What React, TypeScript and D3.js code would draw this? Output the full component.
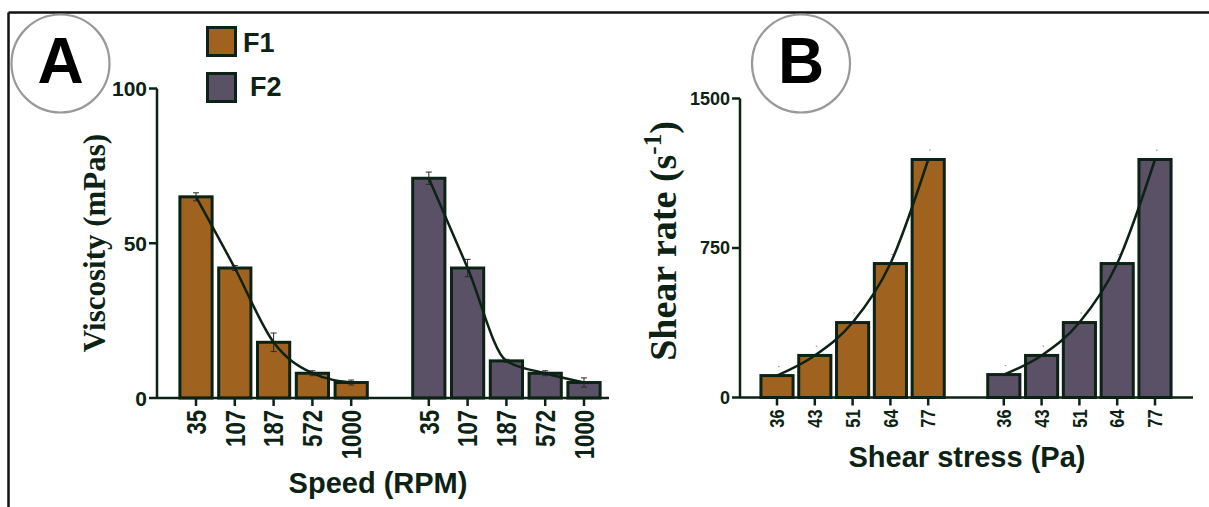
import React from "react";
import * as d3 from "d3";

// panel A: viscosity vs speed
const speedLabels = ["35", "107", "187", "572", "1000"];
const viscF1 = [65, 42, 18, 8, 5];
const viscF1Err = [1.3, 0.8, 3, 0.8, 0.8];
const viscF2 = [71, 42, 12, 8, 5];
const viscF2Err = [2, 2.8, 0.5, 0.8, 1.5];
const viscTicks = [0, 50, 100];

// panel B: shear rate vs shear stress
const stressLabels = ["36", "43", "51", "64", "77"];
const rateF1 = [110, 211, 376, 672, 1194];
const rateF2 = [115, 211, 376, 672, 1194];
const rateErr = [45, 47, 48, 45, 47];
const rateTicks = [0, 750, 1500];

const seriesNames = ["F1", "F2"];
const colF1 = "#a0621f";
const colF2 = "#5a5166";
const ink = "#0c2214";
const sans = "'Liberation Sans', Arial, sans-serif";
const serif = "'Liberation Serif', 'Times New Roman', serif";

type PanelProps = {
  labels: string[];
  s1: number[];
  s2: number[];
  e1: number[];
  e2: number[];
  ticks: number[];
  yMax: number;
  axisX: number;
  axisEnd: number;
  y0: number;
  y1: number;
  bandRange: [number, number];
  pad: number;
  tickFont: number;
  yTickFont: number;
  faintErr?: boolean;
};

function Panel(p: PanelProps) {
  const keys = [
    ...p.labels.map((l) => "a" + l),
    "gap",
    ...p.labels.map((l) => "b" + l),
  ];
  const x = d3
    .scaleBand<string>()
    .domain(keys)
    .range(p.bandRange)
    .paddingInner(p.pad)
    .paddingOuter(p.pad / 2);
  const y = d3.scaleLinear().domain([0, p.yMax]).range([p.y0, p.y1]);
  const line = d3
    .line<[number, number]>()
    .x((d) => d[0])
    .y((d) => d[1])
    .curve(d3.curveMonotoneX);

  const groups = [
    { pre: "a", vals: p.s1, errs: p.e1, fill: colF1 },
    { pre: "b", vals: p.s2, errs: p.e2, fill: colF2 },
  ];

  return (
    <g>
      {groups.map((g) => {
        const pts: [number, number][] = g.vals.map((v, i) => [
          (x(g.pre + p.labels[i]) as number) + x.bandwidth() / 2,
          y(v),
        ]);
        return (
          <g key={g.pre}>
            {g.vals.map((v, i) => (
              <rect
                key={i}
                x={x(g.pre + p.labels[i])}
                y={y(v)}
                width={x.bandwidth()}
                height={y(0) - y(v)}
                fill={g.fill}
                stroke={ink}
                strokeWidth={3}
              />
            ))}
            {g.vals.map((v, i) => {
              const cx = pts[i][0];
              const top = y(v + g.errs[i]);
              const bot = y(v - g.errs[i]);
              if (p.faintErr)
                return (
                  <line key={"e" + i} x1={cx + 1} x2={cx + 2.5} y1={top} y2={top} stroke="#888" strokeWidth={1} />
                );
              return (
                <g key={"e" + i} stroke="#2a2a2a" strokeWidth={1}>
                  <line x1={cx} x2={cx} y1={top} y2={bot} />
                  <line x1={cx - 3} x2={cx + 3} y1={top} y2={top} />
                  <line x1={cx - 3} x2={cx + 3} y1={bot} y2={bot} />
                </g>
              );
            })}
            <path d={line(pts) || ""} fill="none" stroke={ink} strokeWidth={2.5} />
          </g>
        );
      })}
      {/* axes */}
      <line x1={p.axisX} x2={p.axisX} y1={p.y1} y2={p.y0} stroke={ink} strokeWidth={2.5} />
      <line x1={p.axisX} x2={p.axisEnd} y1={p.y0} y2={p.y0} stroke={ink} strokeWidth={2.5} />
      {p.ticks.map((t) => (
        <g key={t}>
          <line x1={p.axisX - 8} x2={p.axisX} y1={y(t)} y2={y(t)} stroke={ink} strokeWidth={2.5} />
          <text
            x={p.axisX - 10}
            y={y(t)}
            dy="0.36em"
            textAnchor="end"
            fontFamily={sans}
            fontWeight="bold"
            fontSize={p.yTickFont}
            fill={ink}
          >
            {t}
          </text>
        </g>
      ))}
      {keys
        .filter((k) => k !== "gap")
        .map((k) => {
          const cx = (x(k) as number) + x.bandwidth() / 2;
          return (
            <g key={k}>
              <line x1={cx} x2={cx} y1={p.y0} y2={p.y0 + 8} stroke={ink} strokeWidth={2.5} />
              <text
                transform={`translate(${cx},${p.y0 + 12}) rotate(-90) scale(0.82,1)`}
                dy="0.36em"
                textAnchor="end"
                fontFamily={sans}
                fontWeight="bold"
                fontSize={p.tickFont}
                fill={ink}
              >
                {k.slice(1)}
              </text>
            </g>
          );
        })}
    </g>
  );
}

export default function App() {
  return (
    <svg
      width={1209}
      height={507}
      style={{ position: "absolute", left: 0, top: 0, background: "#fff" }}
    >
      {/* frame */}
      <line x1={8.5} x2={1209} y1={12.5} y2={12.5} stroke="#111" strokeWidth={2.5} />
      <line x1={8.5} x2={8.5} y1={12.5} y2={507} stroke="#111" strokeWidth={2.5} />

      {/* panel letters */}
      <circle cx={60.5} cy={63.5} r={49} fill="none" stroke="#999" strokeWidth={2.2} />
      <text x={60.5} y={83} textAnchor="middle" fontFamily={sans} fontWeight="bold" fontSize={64} fill="#000">
        A
      </text>
      <circle cx={801} cy={63.5} r={49} fill="none" stroke="#999" strokeWidth={2.2} />
      <text x={801} y={83} textAnchor="middle" fontFamily={sans} fontWeight="bold" fontSize={64} fill="#000">
        B
      </text>

      {/* legend */}
      {seriesNames.map((s, i) => (
        <g key={s}>
          <rect
            x={207.5}
            y={27.5 + i * 46}
            width={28}
            height={28}
            fill={i === 0 ? colF1 : colF2}
            stroke={ink}
            strokeWidth={3}
          />
          <text
            x={243 + i * 7}
            y={52 + i * 44}
            fontFamily={sans}
            fontWeight="bold"
            fontSize={27}
            fill={ink}
          >
            {s}
          </text>
        </g>
      ))}

      <Panel
        labels={speedLabels}
        s1={viscF1}
        s2={viscF2}
        e1={viscF1Err}
        e2={viscF2Err}
        ticks={viscTicks}
        yMax={100}
        axisX={157}
        axisEnd={609}
        y0={398}
        y1={88.5}
        bandRange={[176.6, 603.4]}
        pad={0.17}
        tickFont={27}
        yTickFont={21}
      />
      <Panel
        labels={stressLabels}
        s1={rateF1}
        s2={rateF2}
        e1={rateErr}
        e2={rateErr}
        ticks={rateTicks}
        yMax={1500}
        axisX={740}
        axisEnd={1193}
        y0={397.5}
        y1={98.5}
        bandRange={[758.1, 1173.9]}
        pad={0.15}
        tickFont={20}
        yTickFont={18}
        faintErr
      />

      {/* axis titles */}
      <text
        transform="translate(105,243) rotate(-90)"
        textAnchor="middle"
        fontFamily={serif}
        fontWeight="bold"
        fontSize={31}
        fill={ink}
      >
        Viscosity (mPas)
      </text>
      <text
        transform="translate(676,241) rotate(-90)"
        textAnchor="middle"
        fontFamily={serif}
        fontWeight="bold"
        fontSize={38}
        fill={ink}
      >
        Shear rate (s
        <tspan fontSize={25} dy={-15}>-1</tspan>
        <tspan dy={15}>)</tspan>
      </text>
      <text x={378} y={493} textAnchor="middle" fontFamily={sans} fontWeight="bold" fontSize={29} fill={ink}>
        Speed (RPM)
      </text>
      <text x={967} y={467} textAnchor="middle" fontFamily={sans} fontWeight="bold" fontSize={29} fill={ink}>
        Shear stress (Pa)
      </text>
    </svg>
  );
}
